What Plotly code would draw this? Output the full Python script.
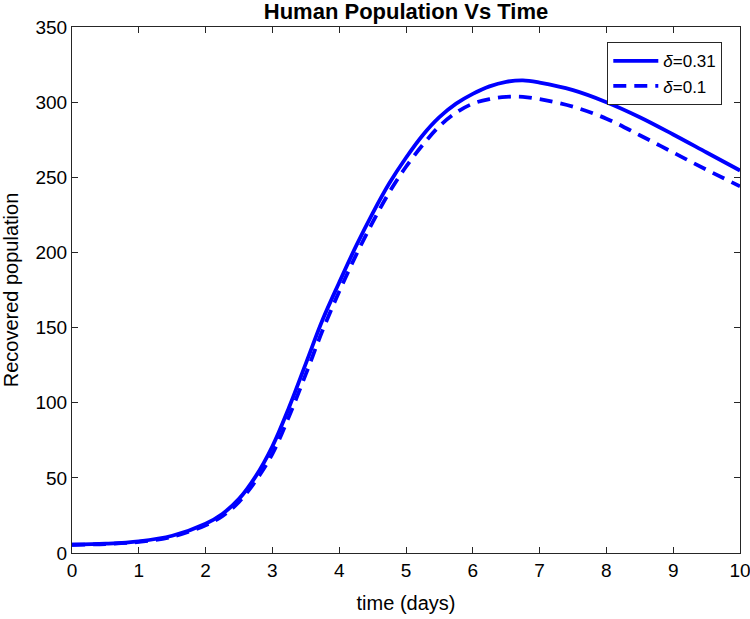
import plotly.graph_objects as go

t = [0, 0.5, 1, 1.5, 2, 2.25, 2.5, 2.75, 3, 3.25, 3.5, 3.75, 4, 4.25, 4.5, 4.75, 5, 5.25, 5.5, 5.75,
     6, 6.25, 6.5, 6.75, 7, 7.5, 8, 8.5, 9, 9.5, 10]
r_031 = [5.5, 6.2, 7.8, 11.5, 19.5, 26, 36, 51, 71, 97, 126, 155, 180, 204, 226, 246, 263, 278, 290, 299,
         305.5, 310.5, 313.5, 314.5, 313, 308, 300, 290, 278.5, 266.5, 254.5]
r_01 = [5.5, 6, 7.4, 10.8, 18.5, 24.5, 34, 48, 66, 91, 119, 148, 174, 198, 220, 240, 257, 271.5, 284, 293,
        299, 302, 303.5, 303.5, 302, 297, 289, 278, 266.5, 255, 244]
names = ["<i>δ</i>=0.31", "<i>δ</i>=0.1"]
xticks = list(range(0, 11))
yticks = list(range(0, 351, 50))

FONT = "Liberation Sans, Arial, Helvetica"

fig = go.Figure()
fig.add_trace(go.Scatter(x=t, y=r_031, mode="lines", name=names[0],
                         line=dict(color="#0000FF", width=3.8, shape="spline")))
fig.add_trace(go.Scatter(x=t, y=r_01, mode="lines", name=names[1],
                         line=dict(color="#0000FF", width=3.8, shape="spline", dash="13px,8px")))

axis_common = dict(showgrid=False, zeroline=False, showline=True, linecolor="#262626", linewidth=1,
                   mirror="ticks", ticks="inside", ticklen=6, tickcolor="#262626", automargin=False,
                   ticklabeloverflow="allow",
                   tickfont=dict(family=FONT, size=19, color="#000"))
fig.update_xaxes(range=[0, 10], tickvals=xticks, title=dict(text="time (days)", standoff=16,
                 font=dict(family=FONT, size=20, color="#000")), **axis_common)
fig.update_yaxes(range=[0, 350], tickvals=yticks, title=dict(text="Recovered population", standoff=16,
                 font=dict(family=FONT, size=20, color="#000")), **axis_common)

fig.update_layout(
    width=750, height=619,
    margin=dict(l=72, r=10, t=27, b=66),
    paper_bgcolor="white", plot_bgcolor="white",
    title=dict(text="<b>Human Population Vs Time</b>", x=0.5, xref="paper", xanchor="center",
               y=0.981, yanchor="middle", font=dict(family=FONT, size=22, color="#000")),
    legend=dict(x=0.9735, y=0.971, xanchor="right", yanchor="top", bgcolor="white",
                bordercolor="#262626", borderwidth=1, tracegroupgap=0, itemwidth=45,
                font=dict(family=FONT, size=17, color="#000")),
    showlegend=True,
)

fig.write_html("out.html", config={"displayModeBar": False},
               post_script="document.body.style.margin='0px';document.body.style.padding='0px';")
